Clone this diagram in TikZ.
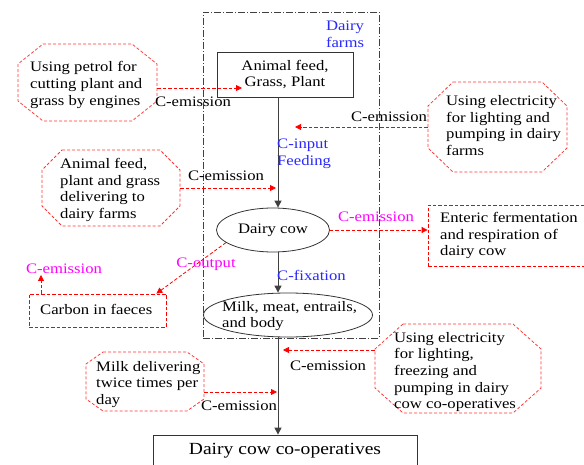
\documentclass[tikz,border=0pt]{standalone}
\usepackage{fontspec}
\setmainfont{Liberation Serif}[FakeStretch=1.15]
\usetikzlibrary{arrows.meta,calc,shapes.geometric}
\definecolor{myred}{RGB}{255,0,0}
\definecolor{myoct}{RGB}{255,50,50}
\definecolor{myblue}{RGB}{40,40,255}
\definecolor{mymag}{RGB}{255,0,255}
\newcommand{\mysize}{\fontsize{14.5}{16.7}\selectfont}
\newcommand{\mybig}{\fontsize{17}{20}\selectfont}
\tikzset{
  every node/.style={font=\mysize, inner sep=0pt},
  blk/.style={draw=black!80, line width=0.8pt},
  harrow/.style={draw=black!75, line width=1pt, -{Triangle[length=7pt,width=7pt]}},
  rarrow/.style={draw=myred, line width=0.8pt, dash pattern=on 3.5pt off 2pt, -{Triangle[length=6pt,width=6pt]}},
  octline/.style={draw=myoct, line width=0.75pt, dash pattern=on 3pt off 2pt},
  rbox/.style={draw=myred, line width=0.8pt, dash pattern=on 3.5pt off 2pt},
  framebox/.style={draw=black!75, line width=0.8pt, dash pattern=on 7pt off 2pt on 1pt off 2pt},
  txt/.style={anchor=west, align=left},
  holder/.style={draw=none, rectangle}
}
% \octa{name}{x1}{y1}{x2}{y2}{chamfer x}{chamfer y}
\newcommand{\octa}[7]{%
  \node[holder, minimum width={#4-#2}, minimum height={#5-#3}] (#1) at ({(#2+#4)/2},{-(#3+#5)/2}) {};
  \draw[octline] (#2+#6,-#3) -- (#4-#6,-#3) -- (#4,-#3-#7) -- (#4,-#5+#7) -- (#4-#6,-#5) -- (#2+#6,-#5) -- (#2,-#5+#7) -- (#2,-#3-#7) -- cycle;
}
\begin{document}
\begin{tikzpicture}[x=1pt,y=1pt]
\useasboundingbox (0,0) rectangle (584,-465);

% frame of dairy farms
\node[framebox, minimum width=176, minimum height=326] (frame) at (291,-175) {};
\node[text=myblue, align=center] (dftxt) at (345,-34) {Dairy\\farms};

% main chain
\coordinate (ax) at (278,0);
\node[blk, minimum width=136, minimum height=45, align=center] (feed) at (285,-74.5) {Animal feed,\\Grass, Plant};
\node[blk, ellipse, minimum width=113, minimum height=44] (cow) at (273,-230) {Dairy cow};
\node[blk, ellipse, minimum width=169, minimum height=44] (milk) at (288,-315) {};
\node[txt] (milktxt) at (222,-316) {Milk, meat, entrails,\\and body};
\node[blk, minimum width=264, minimum height=32, font=\mybig] (coop) at (285,-451) {Dairy cow co-operatives};

\draw[harrow] (feed.south -| ax) -- (cow.north -| ax);
\draw[harrow] (cow.south -| ax) -- (milk.north -| ax);
\draw[harrow] (milk.south -| ax) -- (coop.north -| ax);

\node[text=myblue, txt] (cinput) at (277,-154) {C-input\\Feeding};
\node[text=myblue, txt] (cfix) at (277,-275) {C-fixation};

% octagons
\octa{petrol}{18}{44}{157}{121}{25}{20}
\node[txt] (petroltxt) at (30,-85) {Using petrol for\\cutting plant and\\grass by engines};

\octa{elecA}{428}{82}{567}{172}{25}{24}
\node[txt] (elecAtxt) at (446,-125.5) {Using electricity\\for lighting and\\pumping in dairy\\farms};

\octa{deliv}{42}{150}{180}{226}{20}{20}
\node[txt] (delivtxt) at (60,-190) {Animal feed,\\plant and grass\\delivering to\\dairy farms};

\octa{elecB}{375}{324}{541}{413}{28}{25}
\node[txt] (elecBtxt) at (394,-372) {Using electricity\\for lighting,\\freezing and\\pumping in dairy\\cow co-operatives};

\octa{milkd}{86}{352}{204}{411}{17}{12}
\node[txt] (milkdtxt) at (96,-384.5) {Milk delivering\\twice times per\\day};

% dashed boxes
\node[rbox, minimum width=166, minimum height=61] (ent) at (511,-235.5) {};
\node[txt] (enttxt) at (440,-235.5) {Enteric fermentation\\and respiration of\\dairy cow};
\node[rbox, minimum width=137, minimum height=33] (carbon) at (97.5,-310.5) {};
\node[txt] (carbontxt) at (40,-309.5) {Carbon in faeces};

% arrow tip coordinates
\coordinate (t1) at (242,-88);
\coordinate (t2) at (295,-127);
\coordinate (t3) at (276,-188);
\coordinate (t6) at (41,-275);
\coordinate (t7) at (283,-350);
\coordinate (t8) at (277,-392);

% red connectors
\draw[rarrow] (t1 -| petrol.east) -- (t1);
\draw[rarrow] (t2 -| elecA.west) -- (t2);
\draw[rarrow] (t3 -| deliv.east) -- (t3);
\draw[rarrow] (cow.east) -- (cow.east -| ent.west);
\draw[rarrow] (cow.195) -- ($(carbon.north east)+(-10,0)$);
\draw[rarrow] (carbon.north -| t6) -- (t6);
\draw[rarrow] (t7 -| elecB.west) -- (t7);
\draw[rarrow] (t8 -| milkd.east) -- (t8);

% labels
\node (e1) at (193,-102) {C-emission};
\node (e2) at (389,-117) {C-emission};
\node (e3) at (226,-176) {C-emission};
\node (e4) at (328,-366) {C-emission};
\node (e5) at (239,-406) {C-emission};
\node[text=mymag] (em1) at (376,-217) {C-emission};
\node[text=mymag] (em2) at (64,-269) {C-emission};
\node[text=mymag] (cout) at (206,-264) {C-output};
\end{tikzpicture}
\end{document}
